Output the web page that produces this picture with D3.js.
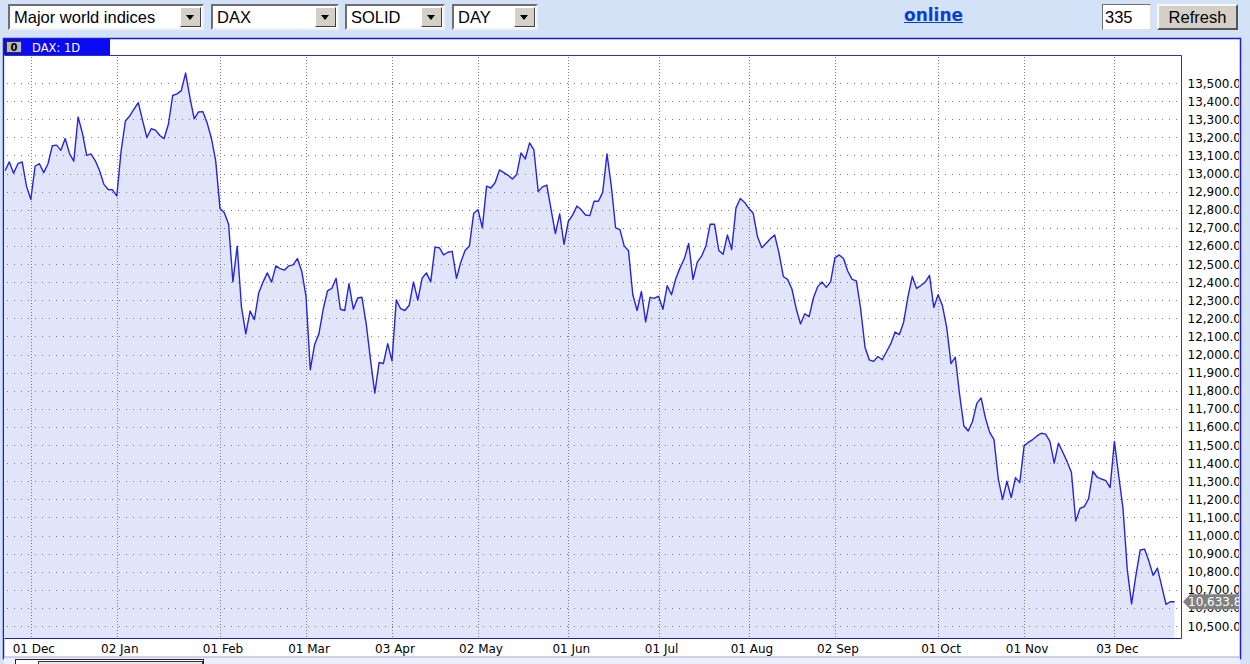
<!DOCTYPE html>
<html><head><meta charset="utf-8">
<script src="https://cdn.jsdelivr.net/npm/d3@7"></script>
<style>
html,body{margin:0;padding:0;background:#d3e2f6;width:1250px;height:664px;overflow:hidden;position:relative;}
svg{position:absolute;left:0;top:0;}
.ctl{position:absolute;font-family:"Liberation Sans",Arial,sans-serif;font-size:16.5px;color:#000;box-sizing:border-box;}
.sel{background:#fff;border:2px solid;border-color:#6f6f6f #f0f0f0 #f0f0f0 #6f6f6f;height:26px;top:4px;}
.sel span{position:absolute;left:4px;top:2px;line-height:19px;white-space:nowrap;}
.dd{position:absolute;top:1px;right:1px;width:21px;height:20px;background:#d4d0c8;border:1px solid;border-color:#fff #404040 #404040 #fff;box-sizing:border-box;}
.dd:after{content:"";position:absolute;left:5px;top:7px;border-left:4px solid transparent;border-right:4px solid transparent;border-top:5px solid #000;}
.inp{background:#fff;border:1px solid;border-color:#6f6f6f #e0e0e0 #e0e0e0 #6f6f6f;top:4px;height:26px;line-height:24px;padding-left:2px;}
.btn{background:#d4d0c8;border:2px solid;border-color:#fafafa #555 #555 #fafafa;top:4px;height:26px;line-height:22px;text-align:center;}
.lnk{position:absolute;font-family:"DejaVu Sans",Verdana,sans-serif;font-weight:bold;font-size:17px;color:#0b3ed2;text-decoration:underline;top:5px;}
</style>
</head><body>
<script>
// ---- data ----
const selectorLabels = ["Major world indices", "DAX", "SOLID", "DAY"];
const barCount = "335";
const seriesName = "DAX: 1D";
const closes = [
13015,13064,13001,13054,13064,12930,12857,13040,13054,13005,
13054,13153,13157,13128,13193,13110,13068,13312,13223,13100,
13108,13070,13015,12940,12912,12910,12876,13124,13290,13318,
13355,13391,13292,13199,13247,13240,13210,13193,13272,13431,
13440,13458,13555,13420,13302,13340,13342,13280,13195,13070,
12807,12783,12720,12401,12599,12260,12114,12240,12193,12340,
12400,12451,12400,12490,12474,12466,12490,12495,12530,12460,
12322,11916,12055,12114,12250,12352,12365,12421,12250,12243,
12391,12250,12312,12316,12170,11970,11787,11956,11950,12060,
11965,12302,12253,12243,12272,12401,12300,12421,12451,12401,
12593,12590,12550,12565,12570,12421,12510,12575,12600,12780,
12800,12700,12930,12920,12950,13020,13005,12990,12970,12995,
13114,13080,13169,13130,12900,12926,12936,12800,12668,12777,
12609,12735,12770,12820,12800,12771,12767,12847,12847,12896,
13108,12930,12700,12690,12600,12573,12330,12243,12348,12180,
12316,12310,12322,12250,12380,12330,12420,12480,12530,12613,
12415,12510,12544,12600,12720,12720,12575,12554,12660,12580,
12810,12862,12840,12807,12780,12650,12590,12615,12640,12660,
12560,12431,12415,12362,12253,12169,12225,12209,12312,12375,
12401,12371,12401,12534,12550,12530,12460,12415,12407,12250,
12040,11970,11962,11989,11971,12015,12060,12124,12110,12180,
12320,12431,12365,12381,12400,12437,12260,12330,12270,12150,
11950,11985,11778,11605,11577,11630,11730,11760,11650,11570,
11530,11312,11200,11300,11210,11320,11292,11495,11515,11530,
11550,11565,11560,11520,11400,11510,11460,11408,11350,11080,
11150,11160,11203,11355,11322,11312,11303,11265,11520,11330,
11150,10810,10622,10780,10920,10925,10860,10780,10820,10720,
10620,10634,10634
];
const tickLabels = ["01 Dec","02 Jan","01 Feb","01 Mar","03 Apr","02 May","01 Jun","01 Jul","01 Aug","02 Sep","01 Oct","01 Nov","03 Dec"];
const tickIndex  = [6,26,50,70,90,110,131,152,173,193,217,237,258];
const yTickValues = d3.range(10500, 13501, 100);
const lastValue = 10633.8;

// ---- controls ----
const body = d3.select("body");
const selLayout = [[8,196],[211,128],[345,100],[452,86]];
selectorLabels.forEach((t,i)=>{
  const d = body.append("div").attr("class","ctl sel")
    .style("left",selLayout[i][0]+"px").style("width",selLayout[i][1]+"px");
  d.append("span").text(t);
  d.append("div").attr("class","dd");
});
body.append("div").attr("class","lnk").style("left","904px").text("online");
body.append("div").attr("class","ctl inp").style("left","1102px").style("width","49px").text(barCount);
body.append("div").attr("class","ctl btn").style("left","1157px").style("width","81px").text("Refresh");

// ---- chart ----
const svg = body.append("svg").attr("width",1250).attr("height",664).style("top","0px");
svg.lower();

const plot = {l:4.5, t:55.5, r:1181.5, b:638.5};
const x = d3.scaleLinear().domain([0, closes.length-1]).range([5, 1174.6]);
const y = d3.scaleLinear().domain([10500, 13500]).range([626, 83]);

svg.append("rect").attr("x",3.5).attr("y",38.5).attr("width",1237).attr("height",620)
  .attr("fill","#fff").attr("stroke","#1c1cd6").attr("stroke-width",1.5);
// bottom strip
svg.append("rect").attr("x",4).attr("y",657).attr("width",1236).attr("height",7).attr("fill","#eceef9");
svg.append("line").attr("x1",4).attr("x2",1240).attr("y1",657).attr("y2",657).attr("stroke","#9ea6d8");
svg.append("rect").attr("x",15.5).attr("y",659.5).attr("width",188).attr("height",10).attr("fill","#fff").attr("stroke","#222");
svg.append("rect").attr("x",38.5).attr("y",661.5).attr("width",164).attr("height",10).attr("fill","#e8e8e8").attr("stroke","#333");

// tab
svg.append("rect").attr("x",4).attr("y",39).attr("width",106).attr("height",16).attr("fill","#0a0af5");
svg.append("rect").attr("x",6.5).attr("y",41.5).attr("width",15).attr("height",11).attr("fill","#b8b8b8").attr("stroke","#303030");
svg.append("text").attr("x",14).attr("y",51).attr("text-anchor","middle")
  .attr("font-family","DejaVu Sans, sans-serif").attr("font-size",10).attr("font-weight","bold").attr("fill","#000").text("0");
svg.append("text").attr("x",32).attr("y",52)
  .attr("font-family","DejaVu Sans, sans-serif").attr("font-size",11.5).attr("fill","#fff").text(seriesName);

// plot background
svg.append("rect").attr("x",plot.l).attr("y",plot.t).attr("width",plot.r-plot.l).attr("height",plot.b-plot.t)
  .attr("fill","#fff");

svg.append("clipPath").attr("id","pc").append("rect")
  .attr("x",plot.l).attr("y",plot.t).attr("width",plot.r-plot.l).attr("height",plot.b-plot.t);
const g = svg.append("g").attr("clip-path","url(#pc)");

// area
const area = d3.area().x((d,i)=>x(i)).y0(plot.b).y1(d=>y(d));
g.append("path").datum(closes).attr("d",area).attr("fill","#e1e5fa");

// grid
g.selectAll(".hg").data(yTickValues).join("line")
  .attr("x1",7).attr("x2",1179).attr("y1",d=>Math.round(y(d))+0.5).attr("y2",d=>Math.round(y(d))+0.5)
  .attr("stroke","#7c7c7c").attr("stroke-width",1).attr("stroke-dasharray","1,6");
g.selectAll(".vg").data(tickIndex).join("line")
  .attr("x1",d=>Math.round(x(d))+0.5).attr("x2",d=>Math.round(x(d))+0.5).attr("y1",57).attr("y2",638)
  .attr("stroke","#7c7c7c").attr("stroke-width",1).attr("stroke-dasharray","1,2");

// line
const line = d3.line().x((d,i)=>x(i)).y(d=>y(d));
g.append("path").datum(closes).attr("d",line).attr("fill","none")
  .attr("stroke","#2424e2").attr("stroke-width",1.4).attr("stroke-linejoin","round");

// plot border
svg.append("line").attr("x1",plot.l).attr("x2",plot.r).attr("y1",plot.t).attr("y2",plot.t).attr("stroke","#3030c8");
svg.append("line").attr("x1",plot.l).attr("x2",plot.r).attr("y1",plot.b).attr("y2",plot.b).attr("stroke","#2020b0");
svg.append("line").attr("x1",plot.r).attr("x2",plot.r).attr("y1",plot.t).attr("y2",plot.b).attr("stroke","#3030c8");

// y labels
const ly = y(lastValue);
svg.append("clipPath").attr("id","yc").append("rect").attr("x",1182).attr("y",56).attr("width",57).attr("height",600);
// region below the last-value marker (the label hidden behind the marker shows only its lower part)
svg.append("clipPath").attr("id","yc2").append("rect").attr("x",1182).attr("y",ly+7.5).attr("width",57).attr("height",20);
const yl = svg.append("g").attr("clip-path","url(#yc)");
const fmt = d3.format(",.1f");
const hidden = d => Math.abs(y(d) - ly) < 10;
yl.selectAll("text.yt").data(yTickValues.filter(d=>!hidden(d))).join("text").attr("class","yt")
  .attr("x",1187.5).attr("y",d=>y(d)+4.5)
  .attr("font-family","DejaVu Sans, Verdana, sans-serif").attr("font-size",12).attr("fill","#000")
  .text(d=>fmt(d));
svg.append("g").attr("clip-path","url(#yc2)").selectAll("text")
  .data(yTickValues.filter(hidden)).join("text")
  .attr("x",1187.5).attr("y",d=>y(d)+4.5)
  .attr("font-family","DejaVu Sans, Verdana, sans-serif").attr("font-size",12).attr("fill","#000")
  .text(d=>fmt(d));

// last value marker
yl.append("path")
  .attr("d",`M1183,${ly} L1190,${ly-7.5} L1241,${ly-7.5} L1241,${ly+7.5} L1190,${ly+7.5} Z`)
  .attr("fill","#808080");
yl.append("text").attr("x",1188).attr("y",ly+4.5)
  .attr("font-family","DejaVu Sans, Verdana, sans-serif").attr("font-size",12).attr("fill","#fff")
  .text(fmt(lastValue));

// x labels
svg.selectAll(".xl").data(tickIndex).join("text")
  .attr("x",d=>x(d)+3).attr("y",652.5).attr("text-anchor","middle")
  .attr("font-family","DejaVu Sans, Verdana, sans-serif").attr("font-size",12).attr("fill","#000")
  .text((d,i)=>tickLabels[i]);
</script>
</body></html>
